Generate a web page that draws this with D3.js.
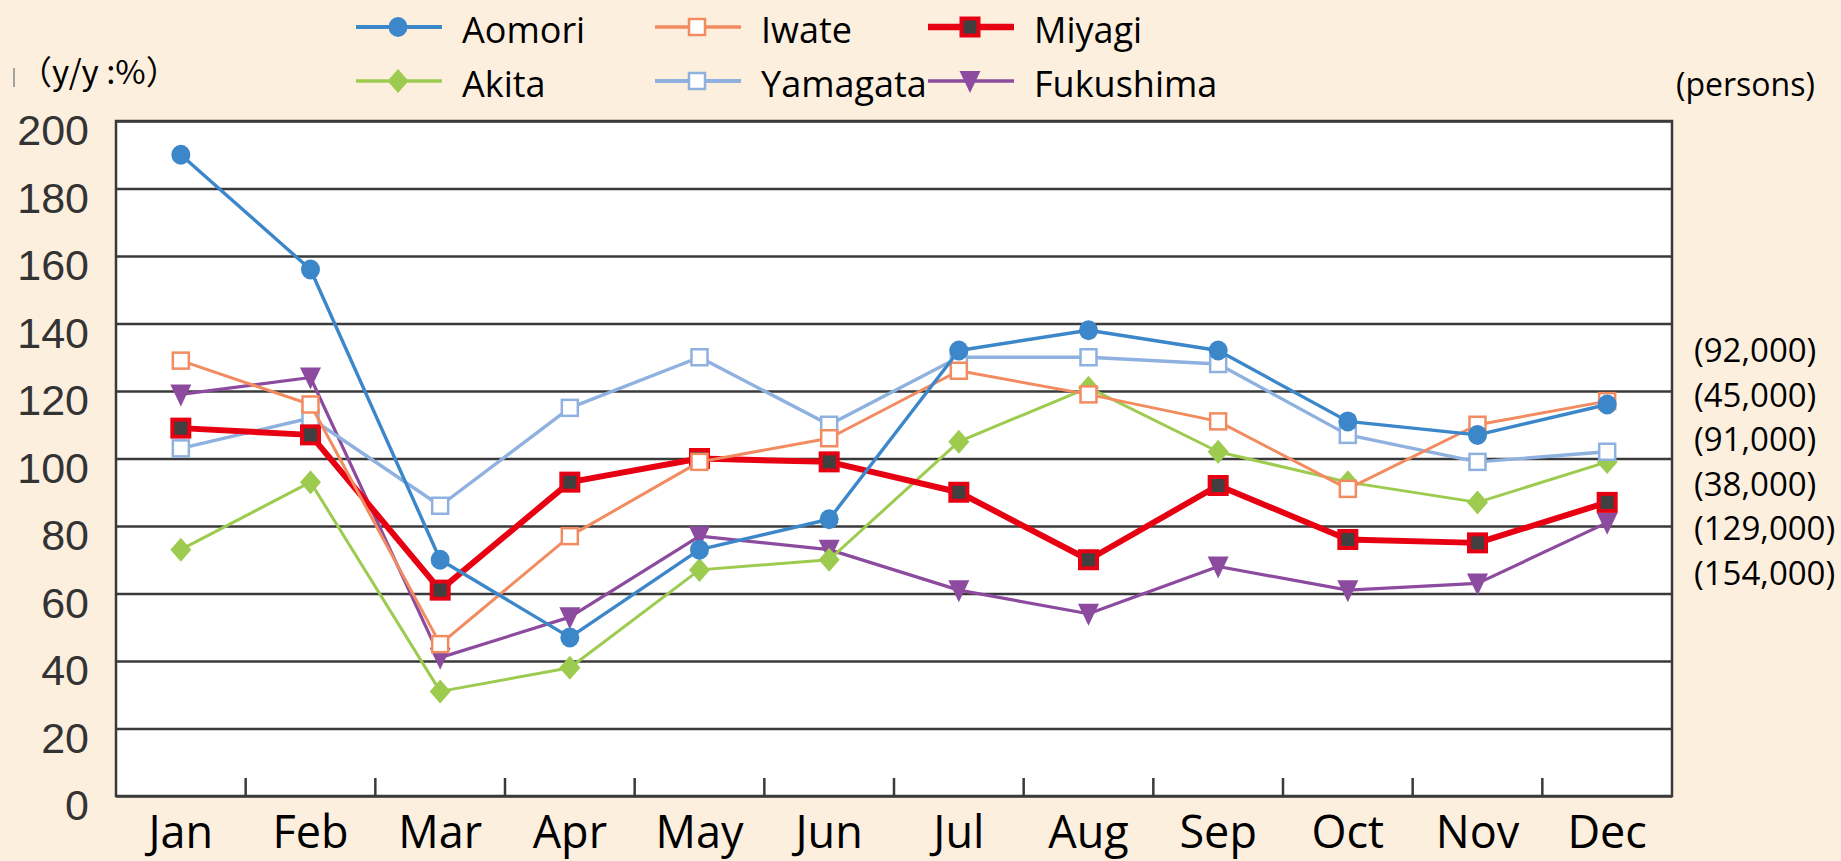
<!DOCTYPE html>
<html><head><meta charset="utf-8">
<script src="https://cdn.jsdelivr.net/npm/d3@7"></script>
<style>html,body{margin:0;padding:0;background:#FDEFDE;}svg{display:block;}</style>
</head><body>
<script>
const months = ["Jan","Feb","Mar","Apr","May","Jun","Jul","Aug","Sep","Oct","Nov","Dec"];
const yTicks = [0,20,40,60,80,100,120,140,160,180,200];
const aomori    = [190,156,70,47,73,82,132,138,132,111,107,116];
const iwate     = [129,116,45,77,99,106,126,119,111,91,110,117];
const miyagi    = [109,107,61,93,100,99,90,70,92,76,75,87];
const akita     = [73,93,31,38,67,70,105,121,102,93,87,99];
const yamagata  = [103,112,86,115,130,110,130,130,128,107,99,102];
const fukushima = [119,124,41,53,77,73,61,54,68,61,63,81];
const personLabels = ["(92,000)","(45,000)","(91,000)","(38,000)","(129,000)","(154,000)"];
const unitLeft = "（y/y :%）";
const unitRight = "(persons)";

const W = 1841, H = 861;
const L = 116, R = 1672, T = 121, B = 796;

const styles = {
  Aomori:    {color:"#3B87C9", lw:3.4, marker:"circle"},
  Iwate:     {color:"#F28B60", lw:3, marker:"openSquare"},
  Miyagi:    {color:"#E60012", lw:6, marker:"darkSquare"},
  Akita:     {color:"#9DCB4F", lw:3, marker:"diamond"},
  Yamagata:  {color:"#8EB1E0", lw:3.4, marker:"openSquare"},
  Fukushima: {color:"#8C4B9E", lw:3.2, marker:"triangleDown"}
};
const series = [
  {name:"Fukushima", values:fukushima},
  {name:"Akita", values:akita},
  {name:"Yamagata", values:yamagata},
  {name:"Miyagi", values:miyagi},
  {name:"Iwate", values:iwate},
  {name:"Aomori", values:aomori}
];
const legendOrder = [
  {name:"Aomori", col:0, row:0},{name:"Akita", col:0, row:1},
  {name:"Iwate", col:1, row:0},{name:"Yamagata", col:1, row:1},
  {name:"Miyagi", col:2, row:0},{name:"Fukushima", col:2, row:1}
];

const svg = d3.select("body").append("svg").attr("width",W).attr("height",H);
svg.append("rect").attr("width",W).attr("height",H).attr("fill","#FDEFDE");

const x = d3.scaleBand().domain(months).range([L,R]).padding(0);
const y = d3.scaleLinear().domain([0,200]).range([B,T]);
const cx = m => x(m) + x.bandwidth()/2;

svg.append("rect").attr("x",L).attr("y",T).attr("width",R-L).attr("height",B-T).attr("fill","#fff");

// gridlines
const grid = svg.append("g").attr("transform",`translate(${L},0)`)
  .call(d3.axisLeft(y).tickValues(yTicks).tickSize(-(R-L)).tickFormat(""));
grid.select(".domain").remove();
grid.selectAll("line").attr("stroke","#3a3a3a").attr("stroke-width",2.5);

// y labels
const yl = svg.append("g").attr("transform",`translate(${L},0)`)
  .call(d3.axisLeft(y).tickValues(yTicks).tickSize(0).tickPadding(27));
yl.select(".domain").remove();
yl.selectAll("text").attr("dy","0.55em")
  .attr("font-family","'Liberation Sans', Arial, sans-serif").attr("font-size",43).attr("fill","#333");

// frame
svg.append("rect").attr("x",L).attr("y",T).attr("width",R-L).attr("height",B-T)
  .attr("fill","none").attr("stroke","#3a3a3a").attr("stroke-width",2.5);

// inner tick marks at month boundaries
svg.append("g").selectAll("line").data(months.slice(1)).join("line")
  .attr("x1",d=>x(d)).attr("x2",d=>x(d)).attr("y1",B).attr("y2",B-18)
  .attr("stroke","#3a3a3a").attr("stroke-width",2.5);

// x labels
const xl = svg.append("g").attr("transform",`translate(0,${B})`)
  .call(d3.axisBottom(x).tickSize(0));
xl.select(".domain").remove();
xl.selectAll("text").attr("y",52).attr("dy",0)
  .attr("font-family","'Open Sans', sans-serif").attr("font-size",45).attr("fill","#000");

function drawMarker(g, type, color, px, py){
  if(type==="circle"){
    g.append("ellipse").attr("cx",px).attr("cy",py).attr("rx",9.5).attr("ry",10).attr("fill",color);
  } else if(type==="openSquare"){
    g.append("rect").attr("x",px-8).attr("y",py-8).attr("width",16).attr("height",16)
      .attr("fill","#fff").attr("stroke",color).attr("stroke-width",2.5);
  } else if(type==="darkSquare"){
    g.append("rect").attr("x",px-8.5).attr("y",py-8.5).attr("width",17).attr("height",17)
      .attr("fill","#404040").attr("stroke",color).attr("stroke-width",4);
  } else if(type==="diamond"){
    g.append("path").attr("d",`M${px},${py-12}L${px+10.5},${py}L${px},${py+12}L${px-10.5},${py}Z`).attr("fill",color);
  } else if(type==="triangleDown"){
    g.append("path").attr("d",`M${px-10.5},${py-10}L${px+10.5},${py-10}L${px},${py+12}Z`).attr("fill",color);
  }
}

const line = d3.line().x((d,i)=>cx(months[i])).y(d=>y(d));
series.forEach(s=>{
  const st = styles[s.name];
  const g = svg.append("g");
  g.append("path").attr("d",line(s.values)).attr("fill","none")
    .attr("stroke",st.color).attr("stroke-width",st.lw).attr("stroke-linejoin","round");
  s.values.forEach((v,i)=>drawMarker(g, st.marker, st.color, cx(months[i]), y(v)));
});

// legend
const colX = [356, 655, 928];
const rowY = [27, 81];
legendOrder.forEach(it=>{
  const st = styles[it.name];
  const g = svg.append("g");
  const x0 = colX[it.col], yy = rowY[it.row];
  g.append("line").attr("x1",x0).attr("x2",x0+86).attr("y1",yy).attr("y2",yy)
    .attr("stroke",st.color).attr("stroke-width",st.lw+0.5);
  drawMarker(g, st.marker, st.color, x0+42, yy);
  g.append("text").attr("x",x0+106).attr("y",yy+16)
    .attr("font-family","'Open Sans', sans-serif").attr("font-size",36).attr("fill","#000").text(it.name);
});

// small mark at top-left edge, as in the source image
svg.append("line").attr("x1",14).attr("x2",14).attr("y1",68).attr("y2",87)
  .attr("stroke","#888").attr("stroke-width",1.5);
svg.append("text").attr("x",19).attr("y",84)
  .attr("font-family","'Noto Sans CJK JP', sans-serif").attr("font-size",33).attr("fill","#000")
  .text(unitLeft);
svg.append("text").attr("x",1676).attr("y",96)
  .attr("font-family","'Open Sans', sans-serif").attr("font-size",32).attr("fill","#000").text(unitRight);
svg.append("g").selectAll("text").data(personLabels).join("text")
  .attr("x",1694).attr("y",(d,i)=>362+i*44.6)
  .attr("font-family","'Open Sans', sans-serif").attr("font-size",33).attr("fill","#000").text(d=>d);
</script>
</body></html>
